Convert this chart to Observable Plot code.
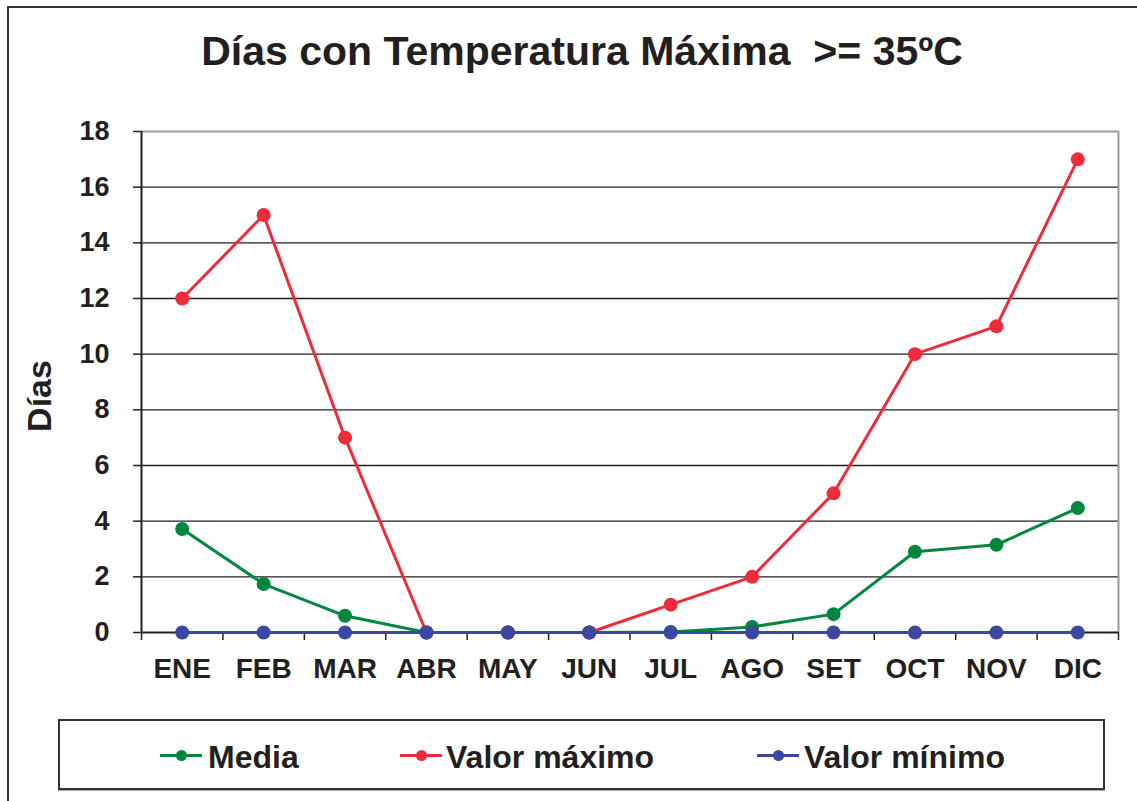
<!DOCTYPE html>
<html>
<head>
<meta charset="utf-8">
<script src="https://cdn.jsdelivr.net/npm/d3@7"></script>
<script src="https://cdn.jsdelivr.net/npm/@observablehq/plot@0.6"></script>
<style>
  html, body { margin: 0; padding: 0; background: #fff; }
  body { width: 1137px; height: 801px; overflow: hidden; font-family: "Liberation Sans", Arial, sans-serif; color: #231f20; }
  #wrap { position: relative; width: 1137px; height: 801px; }
  #frame { position: absolute; left: 7px; top: 6px; width: 1200px; height: 900px; border: 2px solid #333; box-sizing: border-box; }
  #title { position: absolute; left: 582px; top: 31px; transform: translateX(-50%); white-space: pre; font-weight: bold; font-size: 41px; line-height: 40px; }
  #chart { position: absolute; left: 0; top: 0; }
  #ylabel { position: absolute; left: 39px; top: 396px; transform: translate(-50%, -50%) rotate(-90deg); font-weight: bold; font-size: 34px; line-height: 34px; white-space: nowrap; }
  #legend { position: absolute; left: 58px; top: 719px; width: 1047px; height: 71px; border: 2px solid #333; box-sizing: border-box; box-shadow: 0 1px 0 #aaa; }
  .sw { position: absolute; top: 33px; width: 42px; height: 3px; }
  .sw i { position: absolute; left: 16px; top: -4px; width: 11px; height: 11px; border-radius: 50%; }
  .lt { position: absolute; top: 20px; font-weight: bold; font-size: 32px; line-height: 32px; white-space: nowrap; }
</style>
</head>
<body>
<div id="wrap">
  <div id="frame"></div>
  <div id="title"></div>
  <div id="chart"></div>
  <div id="ylabel"></div>
  <div id="legend"></div>
</div>
<script>
const months = ["ENE", "FEB", "MAR", "ABR", "MAY", "JUN", "JUL", "AGO", "SET", "OCT", "NOV", "DIC"];
const media  = [3.72, 1.74, 0.6, 0, 0, 0, 0.02, 0.2, 0.66, 2.9, 3.15, 4.47];
const maximo = [12, 15, 7, 0, 0, 0, 1, 2, 5, 10, 11, 17];
const minimo = [0, 0, 0, 0, 0, 0, 0, 0, 0, 0, 0, 0];
const seriesNames = ["Media", "Valor máximo", "Valor mínimo"];
const seriesColors = ["#00873F", "#EE2B3B", "#3B47A3"];
const yTicks = [0, 2, 4, 6, 8, 10, 12, 14, 16, 18];
const titleText = "Días con Temperatura Máxima  >= 35ºC";
const yLabel = "Días";

const seriesValues = [media, maximo, minimo];
const rows = [];
seriesValues.forEach((vals, s) => vals.forEach((v, i) => rows.push({series: seriesNames[s], i, v})));
const bounds = d3.range(13).map(k => k - 0.5);
const idx = d3.range(months.length);

const marks = [
  Plot.ruleY(yTicks.filter(t => t > 0 && t < 18), {stroke: "#231f20", strokeWidth: 1.4}),
  Plot.ruleY([18], {stroke: "#999", strokeWidth: 2}),
  Plot.ruleX([11.5], {stroke: "#999", strokeWidth: 2}),
  Plot.axisY({ticks: yTicks, tickSize: 8, tickPadding: 24, fontSize: 27, fontWeight: "bold", fill: "#231f20", stroke: "#231f20", strokeWidth: 1.5, label: null}),
  Plot.axisX(bounds, {tickSize: 8, tickFormat: () => "", stroke: "#231f20", strokeWidth: 1.5, label: null}),
  Plot.axisX(idx, {tickSize: 0, tickPadding: 26, tickFormat: i => months[i], fontSize: 28, fontWeight: "bold", fill: "#231f20", label: null}),
  Plot.ruleX([-0.5], {stroke: "#231f20", strokeWidth: 2}),
  Plot.ruleY([0], {stroke: "#231f20", strokeWidth: 2})
];
seriesNames.forEach((name, s) => {
  const d = rows.filter(r => r.series === name);
  marks.push(Plot.line(d, {x: "i", y: "v", stroke: seriesColors[s], strokeWidth: 3}));
  marks.push(Plot.dot(d, {x: "i", y: "v", r: 7, fill: seriesColors[s], stroke: "none"}));
});

const chart = Plot.plot({
  width: 1137,
  height: 700,
  marginLeft: 141,
  marginRight: 19,
  marginTop: 131,
  marginBottom: 68,
  style: {background: "transparent", fontFamily: "'Liberation Sans', Arial, sans-serif", overflow: "visible"},
  x: {type: "linear", domain: [-0.5, 11.5], axis: null},
  y: {domain: [0, 18], axis: null},
  marks
});
document.getElementById("chart").appendChild(chart);
document.getElementById("title").textContent = titleText;
document.getElementById("ylabel").textContent = yLabel;

const legend = document.getElementById("legend");
const lx = [[100, 148], [340, 386], [697, 744]];
seriesNames.forEach((name, s) => {
  const sw = document.createElement("div");
  sw.className = "sw";
  sw.style.left = lx[s][0] + "px";
  sw.style.background = seriesColors[s];
  const dot = document.createElement("i");
  dot.style.background = seriesColors[s];
  sw.appendChild(dot);
  legend.appendChild(sw);
  const t = document.createElement("div");
  t.className = "lt";
  t.style.left = lx[s][1] + "px";
  t.textContent = name;
  legend.appendChild(t);
});
</script>
</body>
</html>
